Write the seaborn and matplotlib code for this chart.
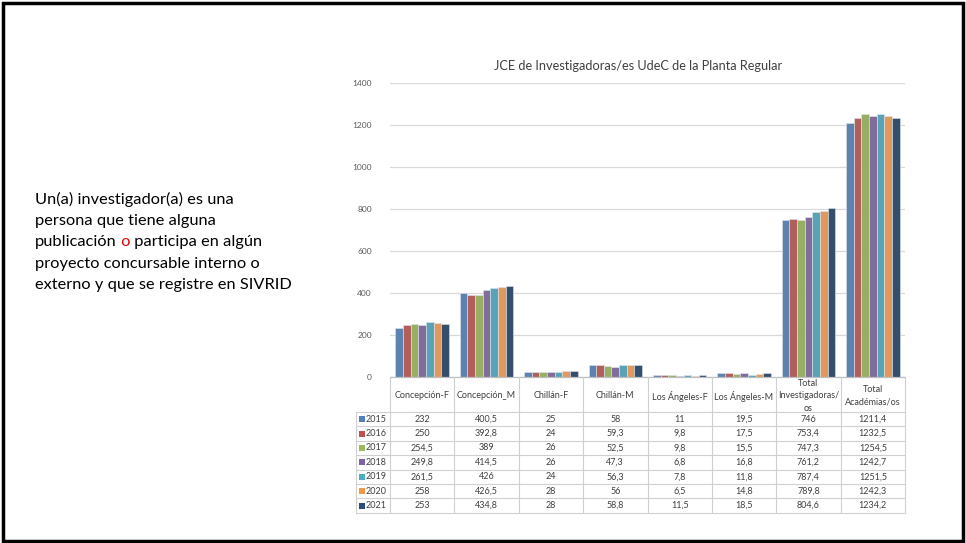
import matplotlib
matplotlib.use("Agg")
import matplotlib.pyplot as plt
import seaborn as sns
import pandas as pd
from matplotlib.patches import Rectangle
from matplotlib.lines import Line2D

categories = ["Concepción-F", "Concepción_M", "Chillán-F", "Chillán-M",
              "Los Ángeles-F", "Los Ángeles-M", "Total Investigadoras/os", "Total Académias/os"]
header_labels = ["Concepción-F", "Concepción_M", "Chillán-F", "Chillán-M",
                 "Los Ángeles-F", "Los Ángeles-M", "Total\nInvestigadoras/\nos", "Total\nAcadémias/os"]
years = ["2015", "2016", "2017", "2018", "2019", "2020", "2021"]
y2015 = [232, 400.5, 25, 58, 11, 19.5, 746, 1211.4]
y2016 = [250, 392.8, 24, 59.3, 9.8, 17.5, 753.4, 1232.5]
y2017 = [254.5, 389, 26, 52.5, 9.8, 15.5, 747.3, 1254.5]
y2018 = [249.8, 414.5, 26, 47.3, 6.8, 16.8, 761.2, 1242.7]
y2019 = [261.5, 426, 24, 56.3, 7.8, 11.8, 787.4, 1251.5]
y2020 = [258, 426.5, 28, 56, 6.5, 14.8, 789.8, 1242.3]
y2021 = [253, 434.8, 28, 58.8, 11.5, 18.5, 804.6, 1234.2]
series = [y2015, y2016, y2017, y2018, y2019, y2020, y2021]
colors = ["#4F81BD", "#C0504D", "#9BBB59", "#8064A2", "#4BACC6", "#F79646", "#2C4D75"]
yticks = [0, 200, 400, 600, 800, 1000, 1200, 1400]
title = "JCE de Investigadoras/es UdeC de la Planta Regular"
note_lines = ["Un(a) investigador(a) es una",
              "persona que tiene alguna",
              None,
              "proyecto concursable interno o",
              "externo y que se registre en SIVRID"]

rows = []
for yr, vals in zip(years, series):
    for c, v in zip(categories, vals):
        rows.append({"cat": c, "year": yr, "val": v})
df = pd.DataFrame(rows)

sns.set_theme(style="white")
FONT = ["Lato", "DejaVu Sans"]
plt.rcParams["font.family"] = FONT

W, H = 966, 543
fig = plt.figure(figsize=(W / 100, H / 100), dpi=100)

def fx(px):
    return px / W

def fy(py):
    return 1 - py / H

# slide border
fig.add_artist(Rectangle((fx(3), fy(541)), fx(960), 538 / H, transform=fig.transFigure,
                         fill=False, edgecolor="black", lw=2.5))

PL, PR, PT, PB = 390, 905, 83, 377
ax = fig.add_axes([fx(PL), fy(PB), fx(PR - PL), (PB - PT) / H])
sns.barplot(data=df, x="cat", y="val", hue="year", palette=colors, width=0.83,
            gap=0, ax=ax, edgecolor="#dfe6ef", linewidth=0.4, legend=False)
ax.set_ylim(0, 1400)
ax.set_xlim(-0.5, len(categories) - 0.5)
ax.set_yticks(yticks)
ax.set_yticklabels([str(t) for t in yticks], fontsize=6, color="#595959")
ax.tick_params(axis="y", length=0, pad=13)
ax.set_xticks([])
ax.set_xlabel("")
ax.set_ylabel("")
ax.grid(axis="y", color="#d9d9d9", lw=0.9)
ax.set_axisbelow(True)
for s in ["top", "right", "left"]:
    ax.spines[s].set_visible(False)
ax.spines["bottom"].set_color("#bfbfbf")
ax.spines["bottom"].set_linewidth(0.9)

fig.text(fx(638), fy(66), title, ha="center", va="center", fontsize=9.2, color="#404040")

# data table
LC = "#d0d0d0"
colw = (PR - PL) / len(categories)
HEAD_B = 412
ROW_H = 14.4
TAB_B = HEAD_B + ROW_H * len(years)
LEG_L = 356

def hline(x0, x1, y):
    fig.add_artist(Line2D([fx(x0), fx(x1)], [fy(y), fy(y)], color=LC, lw=0.8,
                          transform=fig.transFigure))

def vline(x, y0, y1):
    fig.add_artist(Line2D([fx(x), fx(x)], [fy(y0), fy(y1)], color=LC, lw=0.8,
                          transform=fig.transFigure))

for i in range(len(categories) + 1):
    vline(PL + i * colw, PB, TAB_B)
vline(LEG_L, HEAD_B, TAB_B)
for r in range(len(years) + 1):
    hline(LEG_L, PR, HEAD_B + r * ROW_H)

for i, lab in enumerate(header_labels):
    fig.text(fx(PL + (i + 0.5) * colw), fy((PB + HEAD_B) / 2 + 1.5), lab, ha="center",
             va="center", fontsize=6.5, color="#404040", linespacing=1.55)

for r, (yr, vals, col) in enumerate(zip(years, series, colors)):
    yc = HEAD_B + (r + 0.5) * ROW_H
    fig.add_artist(Rectangle((fx(358.5), fy(yc + 3)), fx(6), 6 / H, transform=fig.transFigure,
                             facecolor=col, edgecolor="none"))
    fig.text(fx(365.5), fy(yc), yr, ha="left", va="center", fontsize=6.5, color="#404040")
    for i, v in enumerate(vals):
        fig.text(fx(PL + (i + 0.5) * colw), fy(yc), f"{v:g}".replace(".", ","),
                 ha="center", va="center", fontsize=6.5, color="#404040")

# left note
NX = 35
NY0 = 199
LS = 21.6
NFS = 11.8
for k, line in enumerate(note_lines):
    y = fy(NY0 + k * LS)
    if line is not None:
        fig.text(fx(NX), y, line, ha="left", va="center", fontsize=NFS, color="black")
    else:
        t1 = fig.text(fx(NX), y, "publicación", ha="left", va="center", fontsize=NFS, color="black")
        t2 = fig.text(0, 0, " o", ha="left", va="center", fontsize=NFS, color="#E00000")
        t3 = fig.text(0, 0, " participa en algún", ha="left", va="center", fontsize=NFS, color="black")
        fig.canvas.draw()
        r = fig.canvas.get_renderer()
        b1 = t1.get_window_extent(r)
        t2.set_position((b1.x1 / W, y))
        b2 = t2.get_window_extent(r)
        t3.set_position((b2.x1 / W, y))

fig.savefig("out.png", dpi=100)
